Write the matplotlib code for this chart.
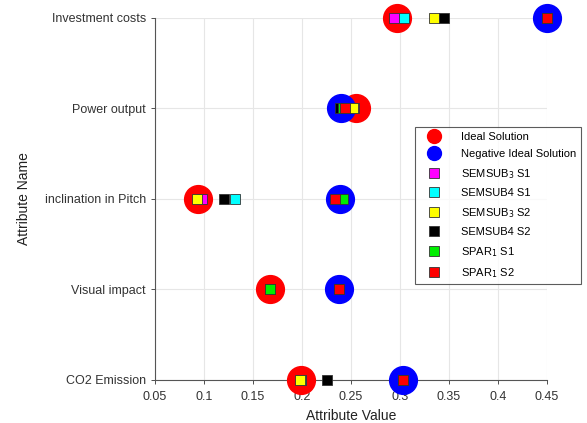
import matplotlib.pyplot as plt
from matplotlib.lines import Line2D
import numpy as np

plt.rcParams['font.family'] = ['Liberation Sans', 'DejaVu Sans']

# attributes from bottom (1) to top (5)
attributes = ["CO2 Emission", "Visual impact", "inclination in Pitch",
              "Power output", "Investment costs"]

ideal = [0.199, 0.167, 0.094, 0.255, 0.297]
neg_ideal = [0.303, 0.238, 0.239, 0.240, 0.450]

semsub3_s1 = [0.199, 0.167, 0.0975, 0.253, 0.294]
semsub4_s1 = [0.199, 0.167, 0.132, 0.250, 0.304]
semsub3_s2 = [0.198, 0.167, 0.093, 0.252, 0.335]
semsub4_s2 = [0.226, 0.238, 0.120, 0.239, 0.345]
spar1_s1 = [0.303, 0.167, 0.2415, 0.242, 0.450]
spar1_s2 = [0.303, 0.238, 0.234, 0.244, 0.450]

series = [
    (semsub3_s1, 'magenta', r'SEMSUB$_{3}$ S1'),
    (semsub4_s1, 'cyan', 'SEMSUB4 S1'),
    (semsub3_s2, 'yellow', r'SEMSUB$_{3}$ S2'),
    (semsub4_s2, 'black', 'SEMSUB4 S2'),
    (spar1_s1, '#00ee00', r'SPAR$_{1}$ S1'),
    (spar1_s2, 'red', r'SPAR$_{1}$ S2'),
]

fig = plt.figure(figsize=(5.87, 4.23), dpi=100)
ax = fig.add_axes([0.264, 0.1017, 0.668, 0.856])

ypos = np.arange(1, len(attributes) + 1)

ax.plot(ideal, ypos, 'o', color='red', markersize=20, linestyle='none',
        clip_on=False, zorder=3)
ax.plot(neg_ideal, ypos, 'o', color='blue', markersize=20, linestyle='none',
        clip_on=False, zorder=3)
for vals, col, lab in series:
    ax.plot(vals, ypos, 's', markerfacecolor=col, markeredgecolor='#333333',
            markeredgewidth=0.6, markersize=7, linestyle='none',
            clip_on=False, zorder=4)

ax.set_xlim(0.05, 0.45)
ax.set_ylim(1, 5)
ax.set_xticks(np.arange(0.05, 0.451, 0.05))
ax.set_xticklabels(['0.05', '0.1', '0.15', '0.2', '0.25', '0.3', '0.35', '0.4', '0.45'])
ax.set_yticks(ypos)
ax.set_yticklabels(attributes)
ax.tick_params(labelsize=9, colors='#333333', length=3, width=0.6)
ax.tick_params(axis='x', pad=5)
ax.grid(True, color='#e6e6e6', linewidth=0.8)
ax.set_axisbelow(True)
for s in ['top', 'right']:
    ax.spines[s].set_visible(False)
for s in ['left', 'bottom']:
    ax.spines[s].set_color('#555555')
    ax.spines[s].set_linewidth(0.8)

ax.set_xlabel('Attribute Value', fontsize=10, color='#222222', labelpad=4)
ax.set_ylabel('Attribute Name', fontsize=10, color='#222222', labelpad=10)

handles = [
    Line2D([], [], marker='o', color='red', linestyle='none', markersize=10),
    Line2D([], [], marker='o', color='blue', linestyle='none', markersize=10),
]
for vals, col, lab in series:
    handles.append(Line2D([], [], marker='s', markerfacecolor=col,
                          markeredgecolor='#333333', markeredgewidth=0.6,
                          linestyle='none', markersize=7))
labels = ['Ideal Solution', 'Negative Ideal Solution'] + [s[2] for s in series]

leg = fig.legend(handles, labels, loc='upper left',
                 bbox_to_anchor=(0.698, 0.712), fontsize=8, frameon=True,
                 fancybox=False, edgecolor='#333333', labelspacing=0.68,
                 handletextpad=1.1, borderpad=0.4, handlelength=2.6)
leg.get_frame().set_linewidth(0.8)

fig.savefig('out.png', dpi=100)
